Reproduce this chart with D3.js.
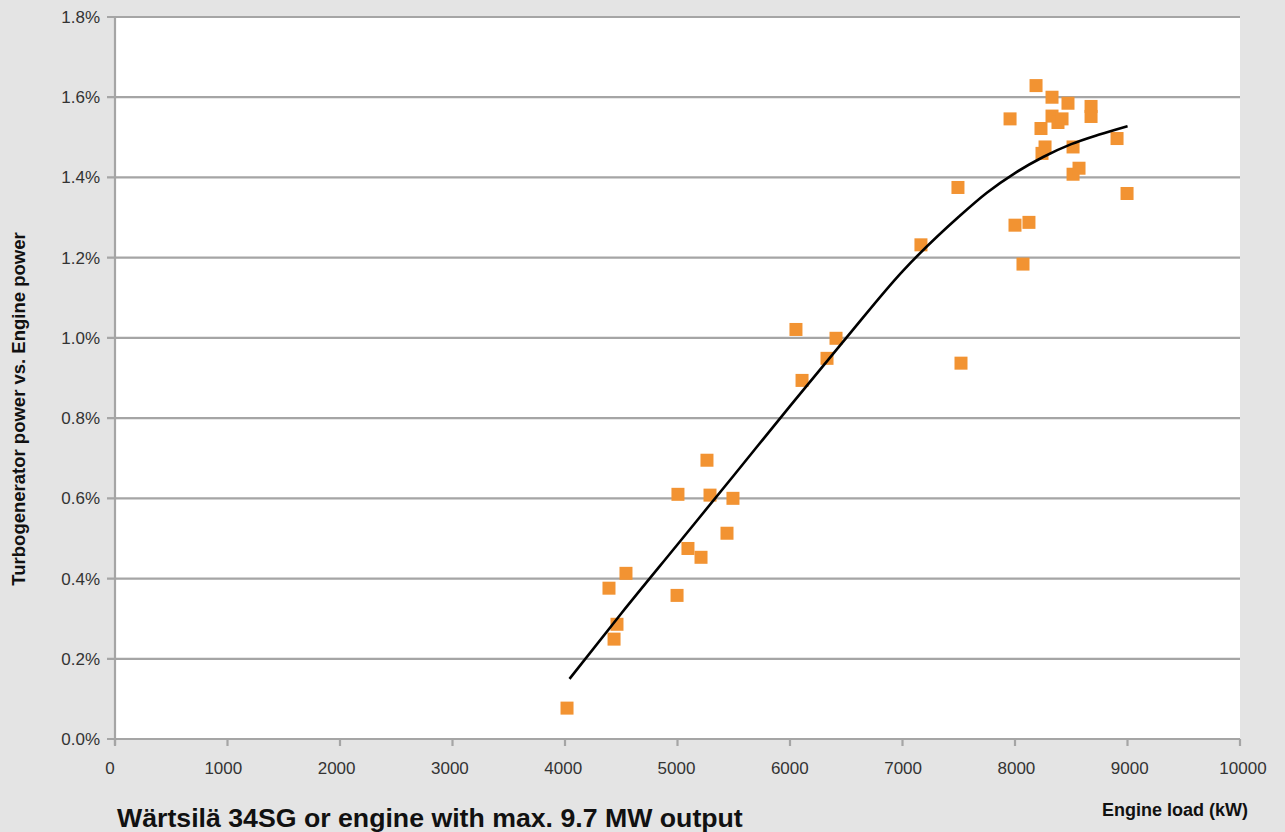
<!DOCTYPE html>
<html><head><meta charset="utf-8">
<script src="https://cdn.jsdelivr.net/npm/d3@7/dist/d3.min.js"></script>
<style>
html,body{margin:0;padding:0;background:#e4e4e4;}
svg{display:block;font-family:"Liberation Sans",Arial,sans-serif;}
</style></head><body>
<svg id="chart" width="1285" height="832"></svg>
<script>
// Measured points: engine load (kW) and turbogenerator power vs engine power (%)
const loadKW = [4018,4391,4436,4462,4542,4996,5004,5093,5209,5262,5289,5440,5493,
  6053,6107,6329,6409,7164,7493,7520,7956,8000,8071,8124,8187,8231,8240,8267,
  8329,8329,8382,8418,8471,8516,8516,8569,8676,8676,8907,8996];
const ratioPct = [0.077,0.376,0.249,0.286,0.413,0.358,0.610,0.475,0.453,0.695,0.608,0.513,0.600,
  1.021,0.894,0.949,0.999,1.232,1.375,0.937,1.546,1.281,1.184,1.288,1.629,1.522,1.460,1.476,
  1.600,1.553,1.537,1.546,1.585,1.408,1.476,1.423,1.577,1.552,1.497,1.360];
// Trend line
const trendKW  = [4040,4500,5000,5500,6000,6500,7000,7500,7750,8000,8250,8500,8750,9000];
const trendPct = [0.150,0.313,0.485,0.657,0.830,1.000,1.166,1.302,1.362,1.411,1.451,1.483,1.507,1.528];
const xTicks = [0,1000,2000,3000,4000,5000,6000,7000,8000,9000,10000];
const yTicks = [0,0.2,0.4,0.6,0.8,1.0,1.2,1.4,1.6,1.8];
const title = "Wärtsilä 34SG or engine with max. 9.7 MW output";
const xTitle = "Engine load (kW)";
const yTitle = "Turbogenerator power vs. Engine power";

const svg = d3.select("#chart");
const L = 115, R = 1240, T = 17, B = 739;
const x = d3.scaleLinear().domain([0,10000]).range([L,R]);
const y = d3.scaleLinear().domain([0,1.8]).range([B,T]);
const grid = "#a5a5a5";

svg.append("rect").attr("x",0).attr("y",0).attr("width",1285).attr("height",832).attr("fill","#e4e4e4");
svg.append("rect").attr("x",L).attr("y",T).attr("width",R-L).attr("height",B-T).attr("fill","#fff");

// gridlines with y ticks
svg.append("g").selectAll("line").data(yTicks).join("line")
  .attr("x1",L-8).attr("x2",R).attr("y1",d=>y(d)).attr("y2",d=>y(d))
  .attr("stroke",grid).attr("stroke-width",2.2);
// y labels
svg.append("g").selectAll("text").data(yTicks).join("text")
  .attr("x",100).attr("y",d=>y(d)+6).attr("text-anchor","end")
  .attr("font-size",17).attr("fill","#333")
  .text(d=>d.toFixed(1)+"%");
// left axis line
svg.append("line").attr("x1",L).attr("x2",L).attr("y1",T).attr("y2",B+6)
  .attr("stroke",grid).attr("stroke-width",2.2);
// x ticks
svg.append("g").selectAll("line").data(xTicks).join("line")
  .attr("x1",d=>x(d)).attr("x2",d=>x(d)).attr("y1",B).attr("y2",B+7)
  .attr("stroke",grid).attr("stroke-width",2.2);
svg.append("g").selectAll("text").data(xTicks).join("text")
  .attr("x",d=>x(d)-5+d*0.0008).attr("y",774).attr("text-anchor","middle")
  .attr("font-size",17).attr("fill","#333")
  .text(d=>d);

// points
const pts = loadKW.map((v,i)=>({x:v,y:ratioPct[i]}));
const s = 13;
svg.append("g").selectAll("rect").data(pts).join("rect")
  .attr("x",d=>x(d.x)-s/2).attr("y",d=>y(d.y)-s/2)
  .attr("width",s).attr("height",s).attr("fill","#f29332");

// trend line
const tr = trendKW.map((v,i)=>[v,trendPct[i]]);
svg.append("path").datum(tr)
  .attr("d",d3.line().x(d=>x(d[0])).y(d=>y(d[1])).curve(d3.curveMonotoneX))
  .attr("fill","none").attr("stroke","#000").attr("stroke-width",2.6);

// titles
svg.append("text").attr("x",117).attr("y",827).attr("font-size",26.7).attr("font-weight","bold")
  .attr("fill","#111").text(title);
svg.append("text").attr("x",1248).attr("y",816).attr("text-anchor","end")
  .attr("font-size",18).attr("font-weight","bold").attr("fill","#111").text(xTitle);
svg.append("text").attr("transform","translate(25,409) rotate(-90)").attr("text-anchor","middle")
  .attr("font-size",18.5).attr("font-weight","bold").attr("fill","#111").text(yTitle);
</script></body></html>
